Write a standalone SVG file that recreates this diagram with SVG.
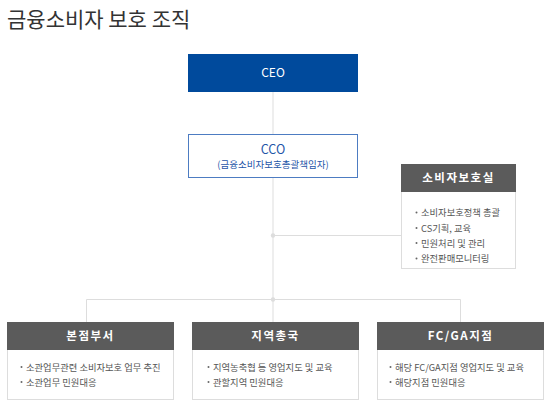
<svg xmlns="http://www.w3.org/2000/svg" width="550" height="405" viewBox="0 0 550 405">
<style>
text{font-family:"Noto Sans CJK KR","Liberation Sans",sans-serif}
.title{font-size:21px;fill:#333}
.ln{stroke:#dddddd;stroke-width:1;fill:none}
.dot{fill:#dddddd}
.hdr{fill:#5b5b5b}
.body{fill:#fff;stroke:#dddddd;stroke-width:1}
.ht{font-size:11.5px;font-weight:bold;fill:#fff;text-anchor:middle;letter-spacing:1.5px}
.it{font-size:9.3px;fill:#555}
.bul{fill:#666}
</style>
<rect width="550" height="405" fill="#fff"/>
<text class="title" x="7" y="27">금융소비자 보호 조직</text>
<g id="connectors">
<line class="ln" x1="273" y1="92" x2="273" y2="134"/>
<line class="ln" x1="273" y1="178" x2="273" y2="322"/>
<line class="ln" x1="273" y1="235.5" x2="401" y2="235.5"/>
<polyline class="ln" points="86.5,322 86.5,299.5 460.5,299.5 460.5,322"/>
<circle class="dot" cx="273" cy="235.5" r="2.2"/>
<circle class="dot" cx="273" cy="299.5" r="2.2"/>
</g>
<g id="ceo">
<rect x="188" y="54" width="170" height="38" fill="#004a9c"/>
<text x="273" y="77" font-size="12" fill="#fff" text-anchor="middle">CEO</text>
</g>
<g id="cco">
<rect x="188.5" y="134.5" width="169" height="43" fill="#fff" stroke="#4d7cc2" stroke-width="1"/>
<text x="273" y="154" font-size="12.5" fill="#1f56a8" text-anchor="middle">CCO</text>
<text x="273" y="168" font-size="9.5" fill="#1f56a8" text-anchor="middle">(금융소비자보호총괄책임자)</text>
</g>
<g id="consumer-office">
<rect class="body" x="401.5" y="164.5" width="114" height="104"/>
<rect class="hdr" x="401" y="164" width="115" height="28"/>
<text class="ht" x="458.5" y="182">소비자보호실</text>
<circle class="bul" cx="416.5" cy="212.5" r="1"/>
<text class="it" x="421" y="216">소비자보호정책 총괄</text>
<circle class="bul" cx="416.5" cy="228" r="1"/>
<text class="it" x="421" y="231.5">CS기획, 교육</text>
<circle class="bul" cx="416.5" cy="243" r="1"/>
<text class="it" x="421" y="246.5">민원처리 및 관리</text>
<circle class="bul" cx="416.5" cy="258.5" r="1"/>
<text class="it" x="421" y="262">완전판매모니터링</text>
</g>
<g id="hq">
<rect class="body" x="7.5" y="322.5" width="166" height="77"/>
<rect class="hdr" x="7" y="322" width="167" height="28"/>
<text class="ht" x="90.5" y="340">본점부서</text>
<circle class="bul" cx="21.5" cy="367" r="1"/>
<text class="it" x="26" y="370.5">소관업무관련 소비자보호 업무 추진</text>
<circle class="bul" cx="21.5" cy="382" r="1"/>
<text class="it" x="26" y="385.5">소관업무 민원대응</text>
</g>
<g id="region">
<rect class="body" x="192.5" y="322.5" width="166" height="77"/>
<rect class="hdr" x="192" y="322" width="167" height="28"/>
<text class="ht" x="275.5" y="340">지역총국</text>
<circle class="bul" cx="208.5" cy="367" r="1"/>
<text class="it" x="213" y="370.5">지역농축협 등 영업지도 및 교육</text>
<circle class="bul" cx="208.5" cy="382" r="1"/>
<text class="it" x="213" y="385.5">관할지역 민원대응</text>
</g>
<g id="fcga">
<rect class="body" x="377.5" y="322.5" width="166" height="77"/>
<rect class="hdr" x="377" y="322" width="167" height="28"/>
<text class="ht" x="460.5" y="340" letter-spacing="0.5">FC/GA지점</text>
<circle class="bul" cx="390.5" cy="367" r="1"/>
<text class="it" x="395" y="370.5">해당 FC/GA지점 영업지도 및 교육</text>
<circle class="bul" cx="390.5" cy="382" r="1"/>
<text class="it" x="395" y="385.5">해당지점 민원대응</text>
</g>
</svg>
